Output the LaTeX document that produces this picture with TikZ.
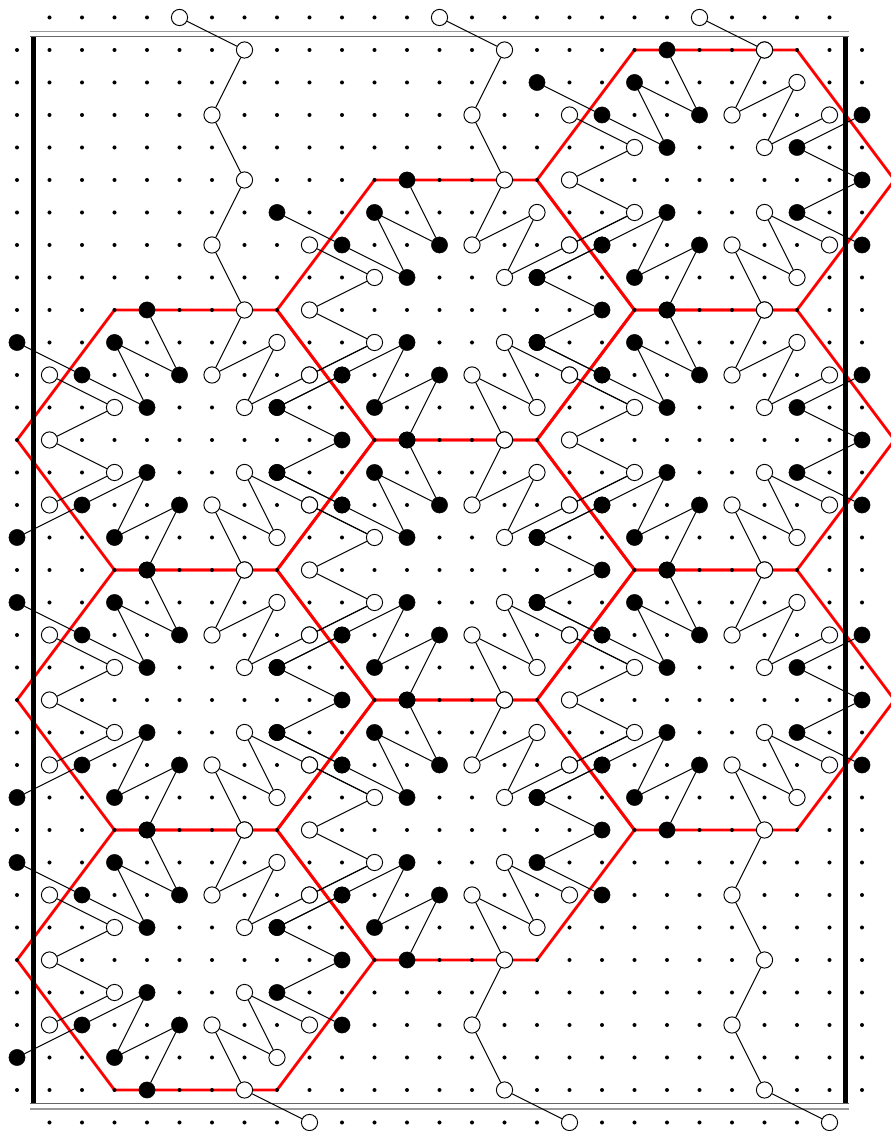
\documentclass[tikz,border=0pt]{standalone}
\usepackage{xcolor}
\usepackage{tikz}
\usetikzlibrary{backgrounds}
\definecolor{dmink}{HTML}{000000}
\definecolor{dmred}{HTML}{FF0000}
\definecolor{dmrail}{HTML}{666666}
\definecolor{dmrailb}{HTML}{999999}
\tikzset{
  dmblack/.style={circle, draw=dmink, fill=dmink, line width=0.2pt,
                  minimum size=7.1pt, inner sep=0pt},
  dmwhite/.style={circle, draw=dmink, fill=white, line width=0.42pt,
                  minimum size=7.1pt, inner sep=0pt},
  dmedge/.style ={draw=dmink, line width=0.42pt},
  dmcell/.style ={draw=dmred, line width=1.25pt},
  dmwall/.style ={draw=dmink, line width=2.2pt},
  dmrailtop/.style={draw=dmrail, line width=0.4pt},
  dmrailalt/.style={draw=dmrailb, line width=0.45pt},
}
\newcommand{\dmcells}{0/13,0/21,0/29,8/9,8/17,8/25,16/5,16/13,16/21}
\begin{document}
\begin{tikzpicture}[x=0.5cm, y=-0.5cm]
  \useasboundingbox (-0.523,-0.538) rectangle (26.892,34.262);
  \foreach \l/\d in \dmcells {
    \foreach \a/\b in {4/-4,5/-2,3/-3,4/-1,2/-2,0/-3,4/1,2/2,0/3,3/3,5/2,4/4,8/-1,10/-2,10/0,8/1,10/2} {
      \pgfmathtruncatemacro{\px}{\l+\a}
      \pgfmathtruncatemacro{\py}{\d+\b}
      \node[dmblack] (n-\px-\py) at (\px,\py) {};
    }
    \foreach \a/\b in {1/-2,3/-1,1/0,3/1,1/2,7/-4,6/-2,8/-3,7/-1,9/-2,7/1,9/2,8/3,6/2,7/4} {
      \pgfmathtruncatemacro{\px}{\l+\a}
      \pgfmathtruncatemacro{\py}{\d+\b}
      \node[dmwhite] (n-\px-\py) at (\px,\py) {};
    }
  }
  \foreach \px/\py in {5/0,7/1,6/3,7/5,6/7,13/0,15/1,14/3,21/0,23/1,9/34,14/31,15/33,17/34,22/27,23/29,22/31,23/33,25/34}
    \node[dmwhite] (n-\px-\py) at (\px,\py) {};
  \begin{scope}[on background layer]
    \foreach \l/\d in \dmcells
      \draw[dmcell, shift={(\l,\d)}] (0,0) -- (3,-4) -- (8,-4) -- (11,0) -- (8,4) -- (3,4) -- cycle;
    \draw[dmwall] (0.5,0.569) -- (0.5,33.415);
    \draw[dmwall] (25.5,0.569) -- (25.5,33.415);
    \draw[dmrailalt] (0.4,0.437) -- (25.6,0.437);
    \draw[dmrailtop] (0.4,0.569) -- (25.6,0.569);
    \draw[dmrailtop] (0.4,33.415) -- (25.6,33.415);
    \draw[dmrailalt] (0.4,33.585) -- (25.6,33.585);
    \foreach \y in {1,...,33}
      \foreach \x in {0,...,26}
        \fill[dmink] (\x,\y) circle (0.88pt);
    \foreach \y in {0,34}
      \foreach \x in {1,...,25}
        \fill[dmink] (\x,\y) circle (0.88pt);
    \foreach \l/\d in \dmcells {
      \foreach \a/\b/\e/\f in {4/-4/5/-2,5/-2/3/-3,3/-3/4/-1,4/-1/2/-2,2/-2/0/-3,1/-2/3/-1,3/-1/1/0,1/0/3/1,3/1/1/2,4/1/2/2,2/2/0/3,4/1/3/3,3/3/5/2,5/2/4/4,7/-4/6/-2,6/-2/8/-3,8/-3/7/-1,7/-1/9/-2,8/-1/10/-2,8/-1/10/0,10/0/8/1,8/1/10/2,7/1/9/2,7/1/8/3,8/3/6/2,6/2/7/4} {
        \pgfmathtruncatemacro{\px}{\l+\a}
        \pgfmathtruncatemacro{\py}{\d+\b}
        \pgfmathtruncatemacro{\qx}{\l+\e}
        \pgfmathtruncatemacro{\qy}{\d+\f}
        \draw[dmedge] (n-\px-\py) -- (n-\qx-\qy);
      }
    }
    \foreach \l/\d in {0/13,0/21,0/29,8/9,8/17,8/25} {
      \pgfmathtruncatemacro{\px}{\l+9}
      \pgfmathtruncatemacro{\py}{\d-2}
      \pgfmathtruncatemacro{\qx}{\l+11}
      \pgfmathtruncatemacro{\qy}{\d-3}
      \draw[dmedge] (n-\px-\py) -- (n-\qx-\qy);
    }
    \foreach \l/\d in {0/13,0/21,8/9,8/17} {
      \pgfmathtruncatemacro{\px}{\l+9}
      \pgfmathtruncatemacro{\py}{\d+2}
      \pgfmathtruncatemacro{\qx}{\l+11}
      \pgfmathtruncatemacro{\qy}{\d+3}
      \draw[dmedge] (n-\px-\py) -- (n-\qx-\qy);
    }
    \draw[dmedge] (n-5-0) -- (n-7-1) -- (n-6-3) -- (n-7-5) -- (n-6-7) -- (n-7-9);
    \draw[dmedge] (n-13-0) -- (n-15-1) -- (n-14-3) -- (n-15-5);
    \draw[dmedge] (n-21-0) -- (n-23-1);
    \draw[dmedge] (n-7-33) -- (n-9-34);
    \draw[dmedge] (n-15-29) -- (n-14-31) -- (n-15-33) -- (n-17-34);
    \draw[dmedge] (n-23-25) -- (n-22-27) -- (n-23-29) -- (n-22-31) -- (n-23-33) -- (n-25-34);
  \end{scope}
\end{tikzpicture}
\end{document}
